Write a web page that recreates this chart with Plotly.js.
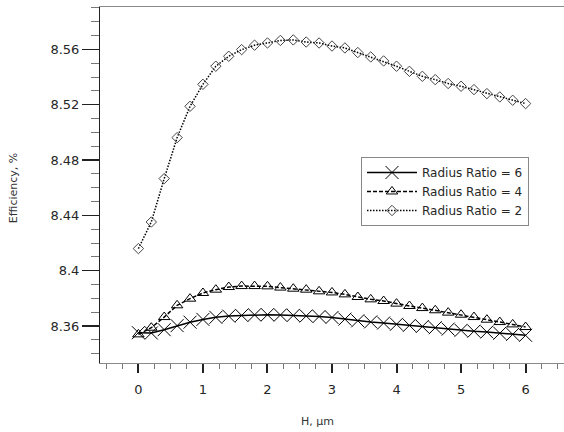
<!DOCTYPE html>
<html>
<head>
<meta charset="utf-8">
<script src="https://cdn.plot.ly/plotly-3.0.1.min.js"></script>
<style>html,body{margin:0;padding:0;background:#fff;}#chart{width:564px;height:432px;}</style>
</head>
<body>
<div id="chart"></div>
<script>
// H, µm
const hValues = [0, 0.2, 0.4, 0.6, 0.8, 1.0, 1.2, 1.4, 1.6, 1.8, 2.0, 2.2, 2.4, 2.6, 2.8, 3.0,
                 3.2, 3.4, 3.6, 3.8, 4.0, 4.2, 4.4, 4.6, 4.8, 5.0, 5.2, 5.4, 5.6, 5.8, 6.0];
// Efficiency, %
const ratio6 = [8.3552, 8.3550, 8.3574, 8.3603, 8.3628, 8.3648, 8.3663, 8.3672, 8.3677, 8.3681, 8.3682,
                8.3680, 8.3677, 8.3673, 8.3669, 8.3662, 8.3650, 8.3638, 8.3630, 8.3622, 8.3613,
                8.3605, 8.3597, 8.3588, 8.3578, 8.3569, 8.3563, 8.3557, 8.3548, 8.3540, 8.3533];
const ratio4 = [8.3540, 8.3588, 8.3665, 8.3750, 8.3798, 8.3839, 8.3863, 8.3882, 8.3889, 8.3889, 8.3887,
                8.3878, 8.3870, 8.3863, 8.3851, 8.3843, 8.3829, 8.3810, 8.3793, 8.3781, 8.3762,
                8.3745, 8.3730, 8.3714, 8.3697, 8.3682, 8.3665, 8.3646, 8.3629, 8.3612, 8.3593];
const ratio2 = [8.4160, 8.4352, 8.4666, 8.4962, 8.5188, 8.5347, 8.5478, 8.5550, 8.5598, 8.5630, 8.5646,
                8.5664, 8.5668, 8.5653, 8.5646, 8.5624, 8.5610, 8.5577, 8.5545, 8.5516, 8.5478,
                8.5441, 8.5405, 8.5381, 8.5353, 8.5333, 8.5309, 8.5280, 8.5256, 8.5232, 8.5208];
const seriesNames = ['Radius Ratio = 6', 'Radius Ratio = 4', 'Radius Ratio = 2'];
const xTickVals = [0, 1, 2, 3, 4, 5, 6];
const xTickText = ['0', '1', '2', '3', '4', '5', '6'];
const yTickVals = [8.36, 8.4, 8.44, 8.48, 8.52, 8.56];
const yTickText = ['8.36', '8.4', '8.44', '8.48', '8.52', '8.56'];
const xTitle = 'H, μm';
const yTitle = 'Efficiency, %';

const traces = [
  {
    x: hValues, y: ratio6, name: seriesNames[0], type: 'scatter', mode: 'lines+markers',
    line: {color: '#000', width: 1.5},
    marker: {symbol: 'x-thin-open', size: 13, color: '#000', line: {color: '#000', width: 1}}
  },
  {
    x: hValues, y: ratio4, name: seriesNames[1], type: 'scatter', mode: 'lines+markers',
    line: {color: '#000', width: 1.5, dash: '4px,2px'},
    marker: {symbol: 'triangle-up-open', size: 10, color: '#000', line: {color: '#000', width: 1}}
  },
  {
    x: hValues, y: ratio2, name: seriesNames[2], type: 'scatter', mode: 'lines+markers',
    line: {color: '#000', width: 1.5, dash: '1.5px,1.5px'},
    marker: {symbol: 'diamond-open', size: 8, color: '#444', line: {color: '#444', width: 1}}
  }
];

const layout = {
  width: 564, height: 432,
  margin: {l: 100, r: 0, t: 7, b: 69, pad: 0},
  paper_bgcolor: '#fff', plot_bgcolor: '#fff',
  font: {family: 'DejaVu Sans, sans-serif', size: 13, color: '#262626'},
  showlegend: true,
  legend: {
    x: 0.5625, y: 0.5787, xanchor: 'left', yanchor: 'top',
    bordercolor: '#888', borderwidth: 1, bgcolor: '#fff',
    font: {family: 'DejaVu Sans, sans-serif', size: 12, color: '#262626'},
    traceorder: 'normal', itemwidth: 50
  },
  xaxis: {
    range: [-0.595, 6.595], showgrid: false, zeroline: false,
    showline: true, linecolor: '#8a8a8a', linewidth: 1, mirror: true,
    ticks: 'outside', ticklen: 9, tickwidth: 2, tickcolor: '#222',
    tickvals: xTickVals, ticktext: xTickText, ticklabelstandoff: 5,
    minor: {dtick: 0.25, tick0: 0, ticks: 'outside', ticklen: 5, tickwidth: 1, tickcolor: '#777', showgrid: false}
  },
  yaxis: {
    range: [8.3333, 8.5906], showgrid: false, zeroline: false,
    showline: true, linecolor: '#222', linewidth: 1, mirror: false,
    ticks: 'outside', ticklen: 17, tickwidth: 1.5, tickcolor: '#222',
    tickvals: yTickVals, ticktext: yTickText,
    minor: {dtick: 0.01, tick0: 8.36, ticks: 'outside', ticklen: 8, tickwidth: 1, tickcolor: '#777', showgrid: false}
  },
  annotations: [
    {text: xTitle, xref: 'paper', yref: 'paper', x: 0.4698, y: -0.1657, showarrow: false,
     xanchor: 'center', yanchor: 'middle', font: {size: 11, color: '#333'}},
    {text: yTitle, xref: 'paper', yref: 'paper', x: -0.185, y: 0.4916, showarrow: false, textangle: -90,
     xanchor: 'center', yanchor: 'middle', font: {size: 11, color: '#333'}}
  ]
};

Plotly.newPlot('chart', traces, layout, {displayModeBar: false, staticPlot: true});
</script>
</body>
</html>
